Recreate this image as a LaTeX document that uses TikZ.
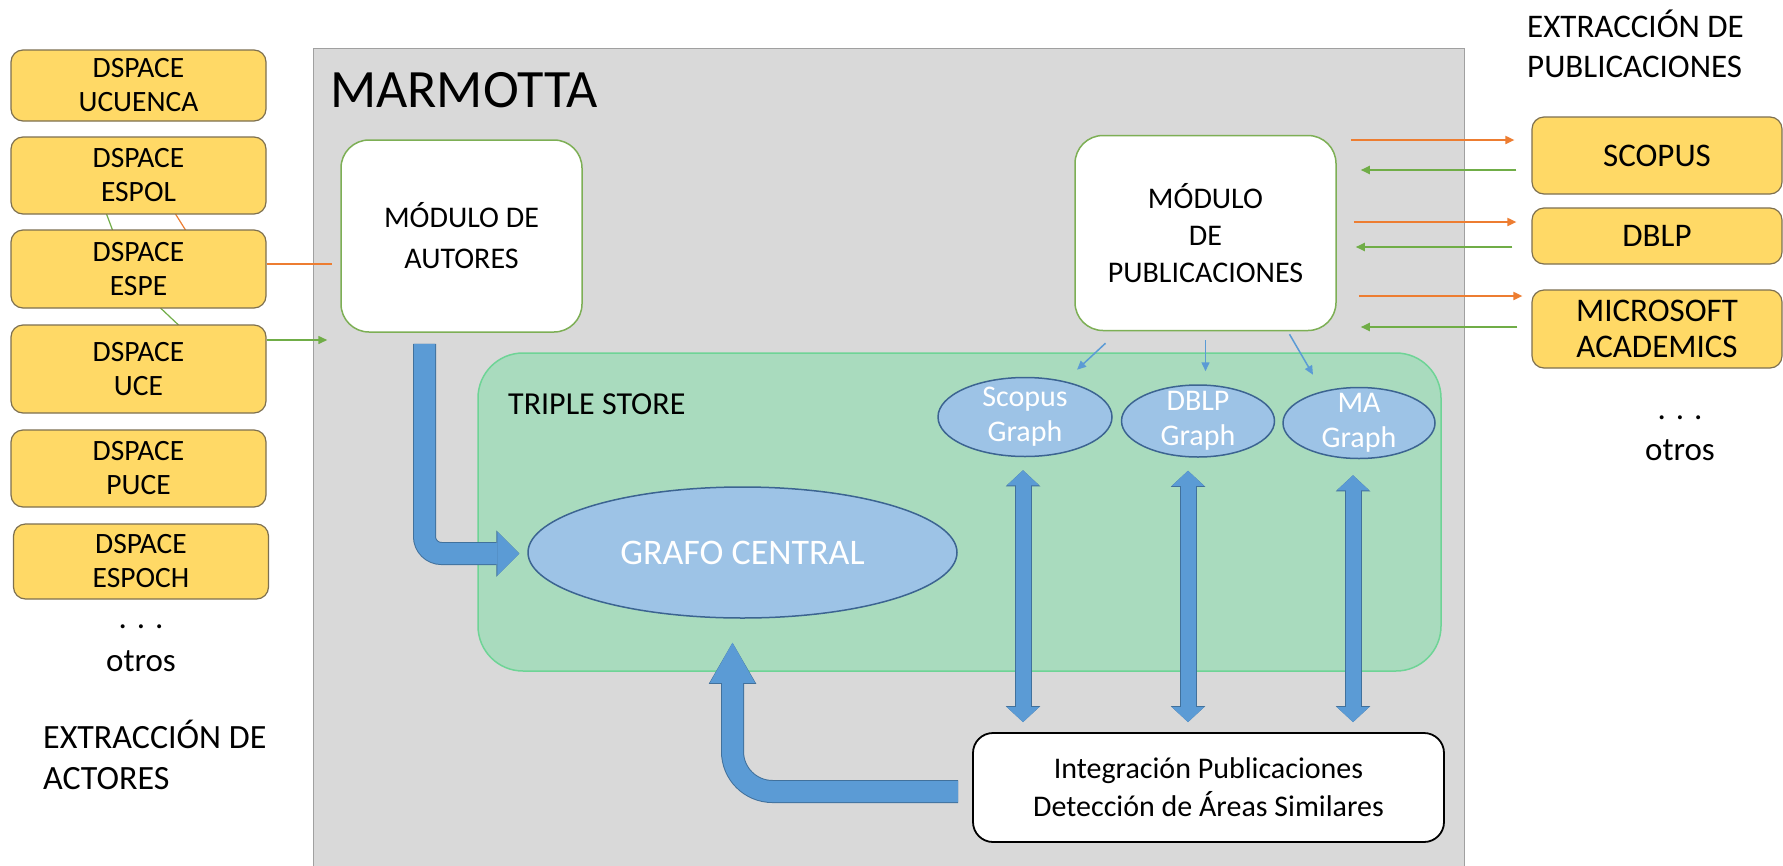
\documentclass[tikz,border=0pt]{standalone}
\usepackage{fontspec}
\setmainfont{Carlito}
\usetikzlibrary{calc,arrows.meta,shapes.geometric}

\definecolor{dspacefill}{RGB}{255,217,102}
\definecolor{dspaceedge}{RGB}{125,112,80}
\definecolor{marmottafill}{RGB}{217,217,217}
\definecolor{marmottaedge}{RGB}{160,160,160}
\definecolor{storefill}{RGB}{169,219,190}
\definecolor{storeedge}{RGB}{110,212,150}
\definecolor{moduloedge}{RGB}{125,175,85}
\definecolor{grafofill}{RGB}{157,195,230}
\definecolor{grafoedge}{RGB}{60,100,145}
\definecolor{flechafill}{RGB}{91,155,213}
\definecolor{flechaedge}{RGB}{65,113,156}
\definecolor{naranja}{RGB}{237,125,49}
\definecolor{verde}{RGB}{112,173,71}

\def\DspaceW{255}
\def\DspaceX{138.5}
\def\ExtW{250}
\def\ExtX{1657}

\tikzset{
  dspace/.style={draw=dspaceedge, fill=dspacefill, line width=1.2pt, rounded corners=12pt,
    minimum width=\DspaceW, inner sep=0pt, align=center, font=\fontsize{29.5}{34}\selectfont},
  ext/.style={dspace, minimum width=\ExtW, font=\fontsize{33}{36}\selectfont},
  modulo/.style={draw=moduloedge, fill=white, line width=1.5pt, rounded corners=28pt,
    align=center, font=\fontsize{30}{37}\selectfont},
  grafo/.style={ellipse, draw=grafoedge, fill=grafofill, line width=1.5pt, text=white,
    align=center, inner xsep=0pt, inner ysep=-12pt, font=\fontsize{30}{35}\selectfont},
  texto/.style={inner sep=0pt, align=left},
  haciaext/.style={draw=naranja, line width=1.8pt, -{Triangle[length=9pt,width=8pt]}},
  desdeext/.style={draw=verde, line width=1.8pt, -{Triangle[length=9pt,width=8pt]}},
  haciagrafo/.style={draw=flechafill, line width=1.5pt, -{Triangle[length=9pt,width=8pt]}},
  dobleflecha/.style={draw=flechafill, line width=15pt,
    {Triangle[length=15pt,width=32pt,line width=0pt]}-{Triangle[length=15pt,width=32pt,line width=0pt]},
    preaction={draw=flechaedge, line width=17pt,
      {Triangle[length=16pt,width=34.5pt,line width=0pt]}-{Triangle[length=16pt,width=34.5pt,line width=0pt]}}}
}

\begin{document}
\begin{tikzpicture}[x=1pt,y=-1pt]
  \path[use as bounding box, fill=white] (0,0) rectangle (1783,865);
  % marmotta
  \node[draw=marmottaedge, fill=marmottafill, line width=1.2pt, minimum width=1151, minimum height=840,
    anchor=north west, inner sep=0pt] (marmotta) at (313,48) {};
  \node[texto, anchor=base west, font=\fontsize{54}{60}\selectfont] (titulo) at (330,107) {MARMOTTA};
  \node[draw=storeedge, fill=storefill, line width=1.5pt, rounded corners=45pt, minimum width=963,
    minimum height=318] (store) at (959.5,512) {};
  \node[texto, anchor=base west, font=\fontsize{32}{36}\selectfont] (triple) at (508,414) {TRIPLE STORE};

  % dspace sources
  \draw[verde, line width=1.2pt] ($(\DspaceX,214)+(-32,0)$) -- ($(\DspaceX,230)+(-26,0)$);
  \draw[naranja, line width=1.2pt] ($(\DspaceX,214)+(37,0)$) -- ($(\DspaceX,230)+(47,0)$);
  \draw[verde, line width=1.2pt] ($(\DspaceX,308)+(22,0)$) -- ($(\DspaceX,325)+(40,0)$);
  \node[dspace, minimum height=71] (ucuenca) at (\DspaceX,85.5) {DSPACE\\UCUENCA};
  \node[dspace, minimum height=77] (espol) at (\DspaceX,175.5) {DSPACE\\ESPOL};
  \node[dspace, minimum height=78] (espe) at (\DspaceX,269) {DSPACE\\ESPE};
  \node[dspace, minimum height=88] (uce) at (\DspaceX,369) {DSPACE\\UCE};
  \node[dspace, minimum height=77] (puce) at (\DspaceX,468.5) {DSPACE\\PUCE};
  \node[dspace, minimum height=75] (espoch) at (141,561.5) {DSPACE\\ESPOCH};
  \node[texto, align=center, anchor=south, font=\fontsize{33}{43}\selectfont] (otrosizq) at (141,672) {. . .\\otros};
  \node[texto, anchor=south west, font=\fontsize{34}{41}\selectfont] (actores) at (43,790) {EXTRACCIÓN DE\\ACTORES};

  % modules
  \node[modulo, minimum width=241, minimum height=192] (autores) at (461.5,236) {MÓDULO DE\\[4pt]AUTORES};
  \node[modulo, minimum width=261, minimum height=195] (pub) at (1205.5,233) {MÓDULO\\DE\\PUBLICACIONES};

  % graphs
  \node[grafo, minimum width=429, minimum height=131, font=\fontsize{36}{40}\selectfont] (grafo) at (742.5,552.5) {GRAFO CENTRAL};
  \node[grafo, minimum width=174, minimum height=79] (scopusg) at (1025,417) {Scopus\\Graph};
  \node[grafo, minimum width=153, minimum height=72] (dblpg) at (1198,421) {DBLP\\Graph};
  \node[grafo, minimum width=152, minimum height=71] (mag) at (1359,423) {MA\\Graph};
  \node[draw=black, fill=white, line width=1.8pt, rounded corners=20pt, minimum width=471, minimum height=109,
    align=center, font=\fontsize{30}{38}\selectfont] (integ) at (1208.5,787.5)
    {Integración Publicaciones\\Detección de Áreas Similares};

  % external sources
  \node[ext, minimum height=77] (scopus) at (\ExtX,155.5) {SCOPUS};
  \node[ext, minimum height=56] (dblp) at (\ExtX,236) {DBLP};
  \node[ext, minimum height=78] (msa) at (\ExtX,329) {MICROSOFT\\ACADEMICS};
  \node[texto, align=center, anchor=south, font=\fontsize{33}{41}\selectfont] (otrosder) at (1680,461) {. . .\\otros};
  \node[texto, anchor=south west, font=\fontsize{33}{40}\selectfont] (publicaciones) at (1527,78) {EXTRACCIÓN DE\\PUBLICACIONES};

  % thin connectors
  \coordinate (e1) at ($(espe.east)+(0,-5)$);
  \coordinate (u1) at ($(uce.east)+(0,-29)$);
  \draw[naranja, line width=1.5pt, shorten >=8pt] (e1) -- (e1 -| autores.west);
  \draw[desdeext, line width=1.5pt, shorten >=13pt] (u1) -- (u1 -| autores.west);
  \coordinate (o1) at ($(scopus.west)+(-17,-15.5)$);
  \coordinate (g1) at ($(scopus.west)+(-15,14.5)$);
  \coordinate (o2) at ($(dblp.west)+(-15,-14)$);
  \coordinate (g2) at ($(dblp.west)+(-19,11)$);
  \coordinate (o3) at ($(msa.west)+(-9,-33)$);
  \coordinate (g3) at ($(msa.west)+(-14,-2)$);
  \draw[haciaext, shorten <=14pt] (pub.east |- o1) -- (o1);
  \draw[desdeext, shorten >=24pt] (g1) -- (pub.east |- g1);
  \draw[haciaext, shorten <=17pt] (pub.east |- o2) -- (o2);
  \draw[desdeext, shorten >=19pt] (g2) -- (pub.east |- g2);
  \draw[haciaext, shorten <=22pt] (pub.east |- o3) -- (o3);
  \draw[desdeext, shorten >=24pt] (g3) -- (pub.east |- g3);
  \draw[haciagrafo] ($(pub.south)+(-100,12)$) -- ($(scopusg.north)+(52,-7)$);
  \draw[haciagrafo, shorten <=9pt, shorten >=13pt] (pub.south) -- (pub.south |- dblpg.north);
  \draw[haciagrafo] ($(pub.south)+(84,3)$) -- ($(mag.north)+(-46,-12)$);

  % big arrows
  \draw[draw=flechafill, line width=21pt, rounded corners=17pt, -{Triangle[length=22pt,width=44pt,line width=0pt]},
    preaction={draw=flechaedge, line width=23pt, -{Triangle[length=23pt,width=46.5pt,line width=0pt]}}]
    ($(autores.south)+(-37,11)$) |- ($(grafo.west)+(-8,1)$);
  \draw[draw=flechafill, line width=21pt, rounded corners=40pt, -{Triangle[length=40pt,width=45pt,line width=0pt]},
    preaction={draw=flechaedge, line width=23pt, -{Triangle[length=41pt,width=47.5pt,line width=0pt]}}]
    ($(integ.west)+(-14,4)$) -| ($(grafo.south)+(-10,24)$);
  \draw[dobleflecha] ($(scopusg.south)+(-2,13)$) -- ($(scopusg.south |- integ.north)+(-2,-10)$);
  \draw[dobleflecha] ($(dblpg.south)+(-10,13)$) -- ($(dblpg.south |- integ.north)+(-10,-10)$);
  \draw[dobleflecha] ($(mag.south)+(-6,16)$) -- ($(mag.south |- integ.north)+(-6,-10)$);
\end{tikzpicture}
\end{document}
